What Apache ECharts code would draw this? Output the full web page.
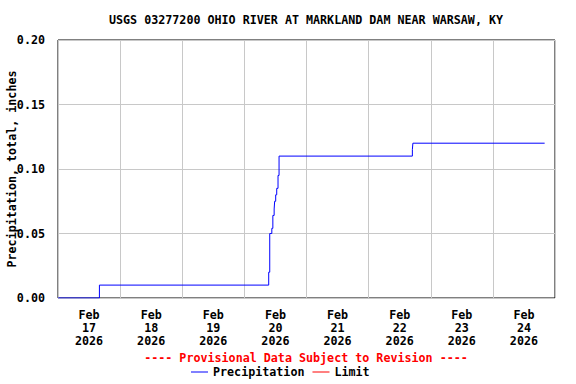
<!DOCTYPE html>
<html>
<head>
<meta charset="utf-8">
<script src="https://cdn.jsdelivr.net/npm/echarts@6/dist/echarts.min.js"></script>
<style>html,body{margin:0;padding:0;background:#fff}#c{width:576px;height:384px}</style>
</head>
<body>
<div id="c"></div>
<script>
var titleText = 'USGS 03277200 OHIO RIVER AT MARKLAND DAM NEAR WARSAW, KY';
var noteText = '---- Provisional Data Subject to Revision ----';
var yAxisName = 'Precipitation, total, inches';
var dayLabels = ['Feb\n17\n2026','Feb\n18\n2026','Feb\n19\n2026','Feb\n20\n2026','Feb\n21\n2026','Feb\n22\n2026','Feb\n23\n2026','Feb\n24\n2026'];
var xMin = '2026-02-17 00:00';
var xMax = '2026-02-25 00:00';
var precipTimes = ['2026-02-17 00:00','2026-02-17 16:00','2026-02-20 09:24','2026-02-20 09:48','2026-02-20 10:36','2026-02-20 11:00','2026-02-20 11:30','2026-02-20 11:42','2026-02-20 12:06','2026-02-20 12:30','2026-02-20 13:00','2026-02-20 13:24','2026-02-22 16:54','2026-02-22 17:06','2026-02-24 20:00'];
var precipValues = [0.00,0.01,0.02,0.05,0.054,0.064,0.069,0.075,0.080,0.085,0.095,0.11,0.115,0.12,0.12];

var font = '"DejaVu Sans Mono"';
var fs = 11.7;
var chart = echarts.init(document.getElementById('c'), null, {renderer: 'svg'});
var seriesData = precipTimes.map(function (t, i) { return [t, precipValues[i]]; });
chart.setOption({
  animation: false,
  backgroundColor: '#fff',
  textStyle: {fontFamily: font},
  grid: {left: 58, right: 21, top: 40, bottom: 86, outerBoundsMode: 'none', containLabel: false,
         show: true, borderColor: '#000', borderWidth: 1, backgroundColor: 'transparent'},
  graphic: [
    {type: 'text', x: 306, y: 20, style: {text: titleText, fontFamily: font, fontWeight: 'bold', fontSize: fs, fill: '#000', align: 'center', verticalAlign: 'middle'}},
    {type: 'text', x: 306, y: 358, style: {text: noteText, fontFamily: font, fontWeight: 'bold', fontSize: fs, fill: '#ff0000', align: 'center', verticalAlign: 'middle'}}
  ],
  legend: {
    left: 191, top: 366, padding: 0, itemWidth: 17, itemHeight: 1, itemGap: 8, icon: 'rect',
    textStyle: {fontFamily: font, fontWeight: 'bold', fontSize: fs, color: '#000'},
    data: ['Precipitation', 'Limit']
  },
  xAxis: [
    {type: 'category', data: dayLabels, boundaryGap: true, position: 'bottom',
     axisLine: {show: false}, axisTick: {show: false},
     axisLabel: {color: '#000', fontFamily: font, fontWeight: 'bold', fontSize: fs, lineHeight: 13, margin: 10, interval: 0},
     splitLine: {show: true, interval: 0, lineStyle: {color: '#c8c8c8', width: 1}}},
    {type: 'time', min: xMin, max: xMax, show: false, splitLine: {show: false}}
  ],
  yAxis: {
    type: 'value', min: 0, max: 0.2, interval: 0.05,
    name: yAxisName, nameLocation: 'middle', nameRotate: 90, nameGap: 40, nameMoveOverlap: false,
    nameTextStyle: {color: '#000', fontFamily: font, fontWeight: 'bold', fontSize: fs, padding: [0, 0, 0, 0]},
    axisLine: {show: false}, axisTick: {show: false},
    axisLabel: {color: '#000', fontFamily: font, fontWeight: 'bold', fontSize: fs, margin: 13,
      formatter: function (v) { return v.toFixed(2); }},
    splitLine: {show: true, lineStyle: {color: '#c8c8c8', width: 1}}
  },
  series: [
    {name: 'Precipitation', type: 'line', xAxisIndex: 1, step: 'end', showSymbol: false, symbol: 'none',
     data: seriesData, lineStyle: {color: '#0000ff', width: 1}, itemStyle: {color: '#0000ff'}},
    {name: 'Limit', type: 'line', xAxisIndex: 1, data: [], symbol: 'none',
     lineStyle: {color: '#ff0000', width: 1}, itemStyle: {color: '#ff0000'}}
  ]
});
</script>
</body>
</html>
